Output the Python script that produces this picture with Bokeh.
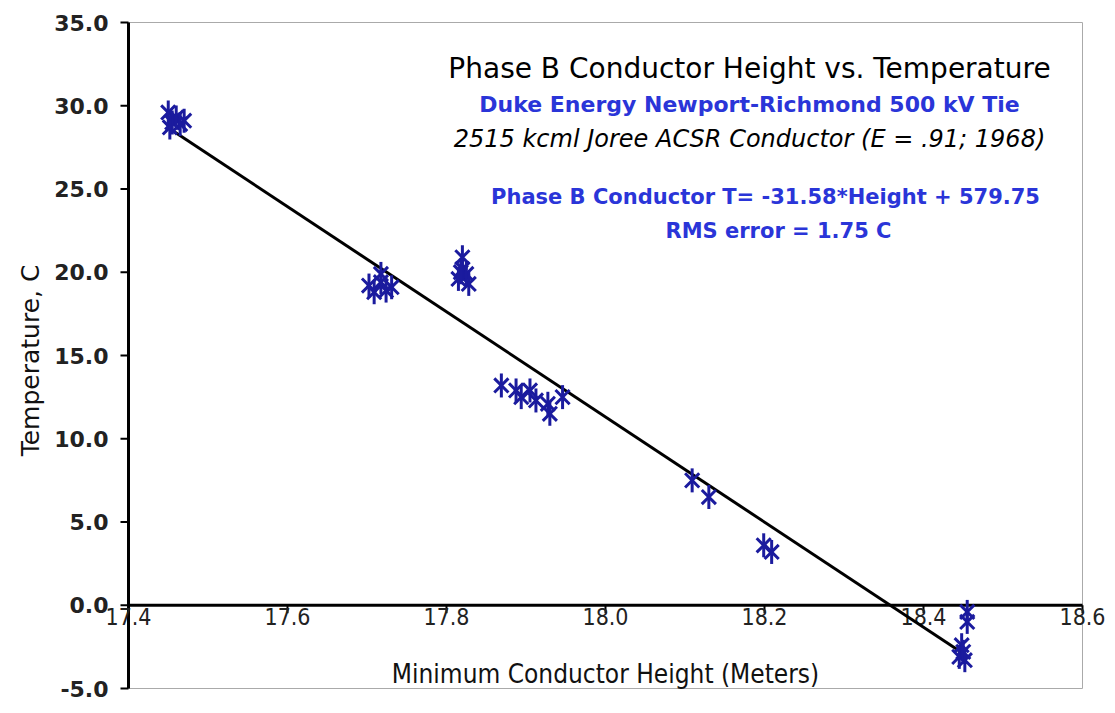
import numpy as np
from bokeh.plotting import figure
from bokeh.models import Range1d, ColumnDataSource
from bokeh.core.properties import value
from bokeh.embed import file_html
from bokeh.resources import INLINE

# ---- data ----
height_m = [17.450, 17.455, 17.460, 17.465, 17.470, 17.452,
            17.7025, 17.7175, 17.724, 17.709, 17.731, 17.7175,
            17.820, 17.820, 17.815, 17.828, 17.825, 17.818,
            17.869, 17.8875, 17.894, 17.905, 17.9125, 17.9275, 17.930, 17.946,
            18.109, 18.130,
            18.199, 18.209,
            18.455, 18.455, 18.448, 18.450, 18.445, 18.452]
temp_c = [29.6, 29.0, 29.3, 28.9, 29.1, 28.7,
          19.2, 19.4, 18.9, 18.8, 19.1, 19.9,
          20.9, 20.2, 19.6, 19.3, 19.9, 20.0,
          13.2, 12.9, 12.5, 12.9, 12.3, 12.1, 11.5, 12.5,
          7.5, 6.5,
          3.6, 3.2,
          -0.4, -1.0, -2.4, -2.8, -3.1, -3.3]

fit_slope = -31.58
fit_intercept = 579.75
fit_x = [17.45, 18.45]

x_min, x_max = 17.4, 18.6
y_min, y_max = -5.0, 35.0
x_ticks = [17.4, 17.6, 17.8, 18.0, 18.2, 18.4, 18.6]
x_tick_labels = ["17.4", "17.6", "17.8", "18.0", "18.2", "18.4", "18.6"]
y_ticks = [-5, 0, 5, 10, 15, 20, 25, 30, 35]
y_tick_labels = ["%.1f" % t for t in y_ticks]

title_text = "Phase B Conductor Height vs. Temperature"
sub1_text = "Duke Energy Newport-Richmond 500 kV Tie"
sub2_text = "2515 kcml Joree ACSR Conductor (E = .91; 1968)"
eq_text = "Phase B Conductor T= -31.58*Height + 579.75"
rms_text = "RMS error = 1.75 C"
x_title = "Minimum Conductor Height (Meters)"
y_title = "Temperature, C"

MARK = "#1b1b9e"
BLUE = "#2a35d8"
NARROW = "'DejaVu Sans Condensed', 'Liberation Sans Narrow', 'DejaVu Sans', sans-serif"

# whole canvas is the frame; the axes are drawn by hand so that the
# x axis can sit on T = 0
W, H = 1107, 705
LEFT_PX, RIGHT_PX, TOP_PX, BOT_PX = 128, 1082, 22, 688
SX = (RIGHT_PX - LEFT_PX) / (x_max - x_min)
SY = (BOT_PX - TOP_PX) / (y_max - y_min)


def at_x(px):
    return x_min + (px - LEFT_PX) / SX


def at_y(px):
    return y_max - (px - TOP_PX) / SY


p = figure(width=W, height=H, output_backend="svg", toolbar_location=None,
           x_range=Range1d(at_x(0), at_x(W)), y_range=Range1d(at_y(H), at_y(0)),
           x_axis_location=None, y_axis_location=None,
           min_border_left=0, min_border_right=0, min_border_top=0, min_border_bottom=0)
p.background_fill_color = "white"
p.border_fill_color = "white"
p.outline_line_color = None
p.xgrid.visible = False
p.ygrid.visible = False

# plot-area border (thin grey)
p.quad(left=[x_min], right=[x_max], bottom=[y_min], top=[y_max],
       fill_color=None, line_color="#aaaaaa", line_width=1)

# y axis
p.segment(x0=[x_min], y0=[y_min], x1=[x_min], y1=[y_max], line_color="black", line_width=3)
p.ray(x=[x_min] * len(y_ticks), y=y_ticks, length=8, length_units="screen",
      angle=np.pi, line_color="black", line_width=2)
p.text(x=[x_min] * len(y_ticks), y=y_ticks, text=y_tick_labels, x_offset=-20,
       text_align="right", text_baseline="middle", text_font=value("DejaVu Sans"),
       text_font_style="bold", text_font_size="22px", text_color="#222222")
p.text(x=[at_x(30)], y=[at_y(360)], text=[y_title], angle=np.pi / 2,
       text_align="center", text_baseline="middle", text_font=value("DejaVu Sans"),
       text_font_size="25px", text_color="#111111")

# x axis on T = 0
p.segment(x0=[x_min], y0=[0], x1=[x_max], y1=[0], line_color="black", line_width=3)
p.ray(x=x_ticks, y=[0] * len(x_ticks), length=8, length_units="screen",
      angle=-np.pi / 2, line_color="black", line_width=2)
p.text(x=x_ticks, y=[0] * len(x_ticks), text=x_tick_labels, text_align="center",
       text_baseline="top", y_offset=3, text_font=value(NARROW),
       text_font_size="23px", text_color="#222222")
p.text(x=[18.0], y=[0], text=[x_title], text_align="center", text_baseline="middle",
       y_offset=69, text_font=value(NARROW), text_font_size="26px", text_color="#111111")

# regression line
fit_y = [fit_slope * v + fit_intercept for v in fit_x]
p.line(fit_x, fit_y, line_color="black", line_width=3)

# star markers (x + vertical bar)
src = ColumnDataSource(dict(x=height_m, y=temp_c))
p.scatter("x", "y", source=src, marker="x", size=20, line_color=MARK, line_width=3)
p.scatter("x", "y", source=src, marker="dash", angle=np.pi / 2, size=24,
          line_color=MARK, line_width=3)


# annotation texts
def note(px, py, txt, size, color, style="normal"):
    p.text(x=[at_x(px)], y=[at_y(py)], text=[txt], text_align="center",
           text_baseline="middle", text_font=value("DejaVu Sans"), text_font_size=size,
           text_font_style=style, text_color=color)


note(749, 68, title_text, "28px", "black")
note(749, 104, sub1_text, "22px", BLUE, "bold")
note(749, 138, sub2_text, "24px", "black", "italic")
note(765, 196, eq_text, "21px", BLUE, "bold")
note(778, 230, rms_text, "21px", BLUE, "bold")

open("out.html", "w").write(file_html(p, INLINE))
